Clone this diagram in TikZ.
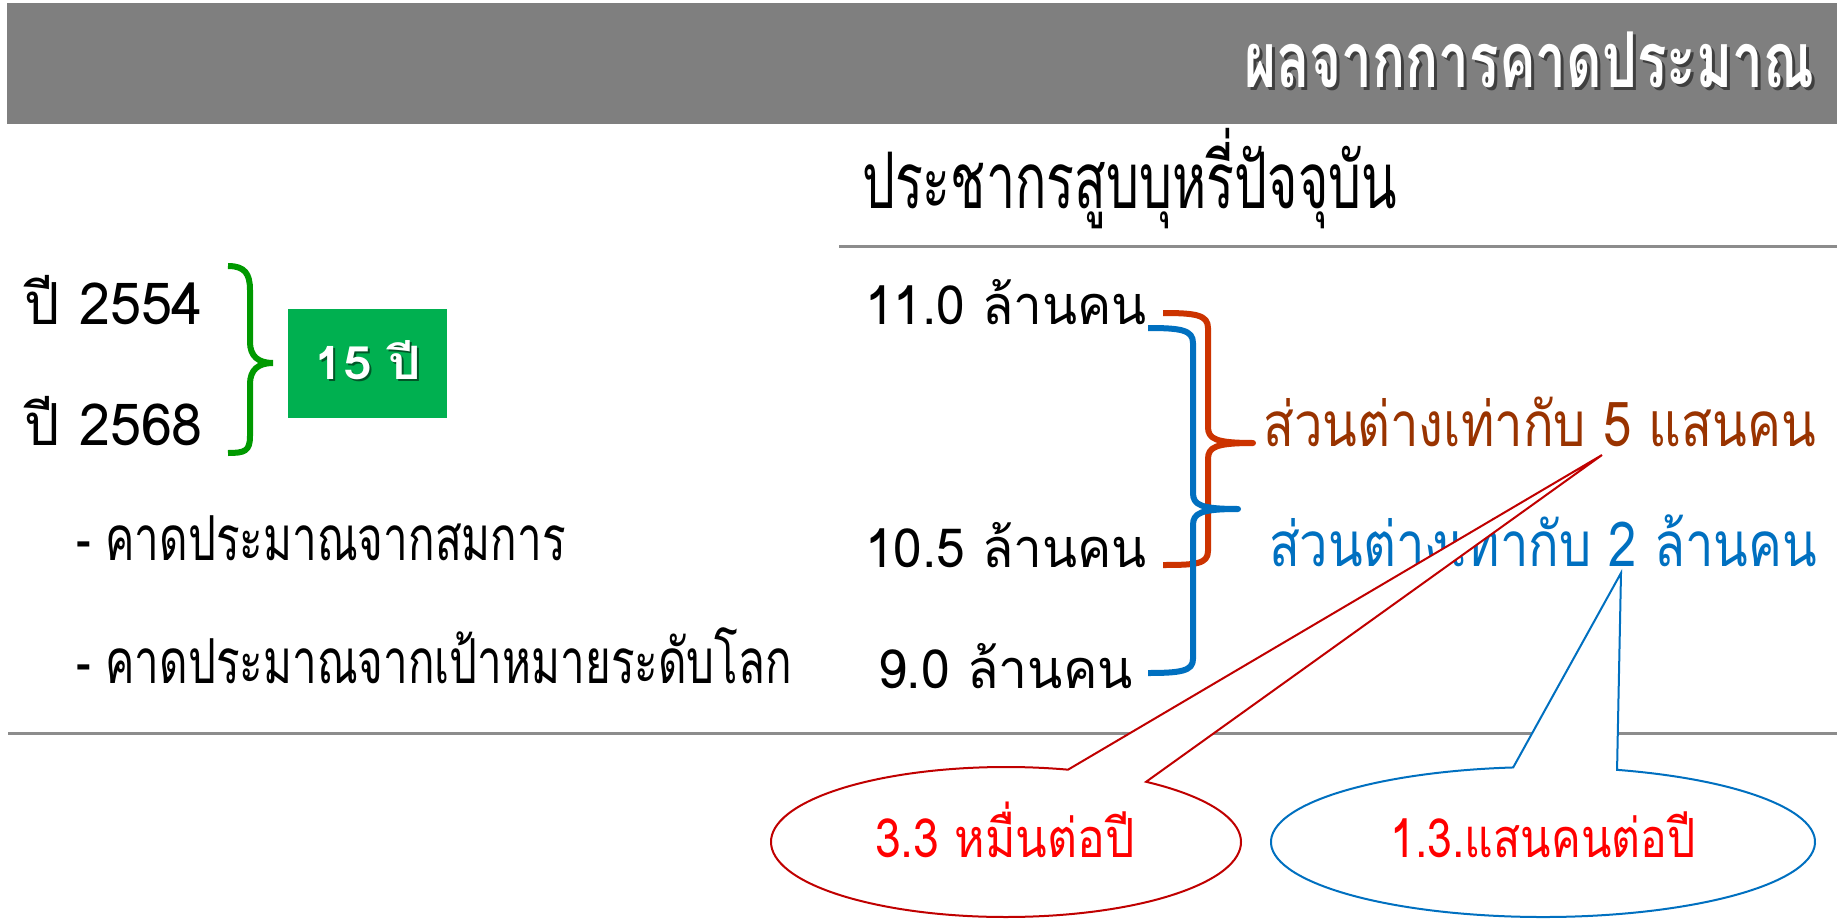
\documentclass[tikz,border=0pt]{standalone}
\usepackage{fontspec}
\usepackage{graphicx}
\newfontfamily\thai[Script=Thai]{Loma}
\usetikzlibrary{calc}
\definecolor{hdr}{RGB}{127,127,127}
\definecolor{rule}{RGB}{140,140,140}
\definecolor{boxgreen}{RGB}{0,176,80}
\definecolor{bracegreen}{RGB}{0,153,0}
\definecolor{bracered}{RGB}{204,51,0}
\definecolor{textbrown}{RGB}{153,51,0}
\definecolor{mblue}{RGB}{0,112,192}
\definecolor{calred}{RGB}{192,0,0}
\definecolor{txtred}{RGB}{255,0,0}
\newcommand\fitw[2]{\resizebox{#1}{\height}{#2}}
\newcommand\fsz[1]{\fontsize{#1}{#1}\selectfont}
\begin{document}
\begin{tikzpicture}[x=1pt,y=-1pt,
  txt/.style={inner sep=0pt, outer sep=0pt, font=\thai},
  lbl/.style={txt, anchor=base west},
  rbl/.style={txt, anchor=base east},
  brace/.style={line width=6pt, line join=round},
  callred/.style={draw=calred, line width=2pt, fill=white, line join=miter},
  callblue/.style={draw=mblue, line width=2pt, fill=white, line join=miter}]
\useasboundingbox (0,0) rectangle (1837,923);
\fill[white] (0,0) rectangle (1837,923);
% header
\fill[hdr] (7,3) rectangle (1837,124);
\node[rbl, text=black, opacity=0.5] (titleshadow) at (1817,91) {\bfseries\fsz{77}\fitw{570pt}{ผลจากการคาดประมาณ}};
\node[rbl, text=white] (title) at (1814,88) {\bfseries\fsz{77}\fitw{570pt}{ผลจากการคาดประมาณ}};
% column heading and rules
\node[lbl] (head) at (862,208) {\fsz{78}\fitw{535pt}{ประชากรสูบบุหรี่ปัจจุบัน}};
\draw[rule, line width=3pt] (839,246) -- (1837,246);
\draw[rule, line width=3pt] (8,733) -- (1837,733);
% left labels
\node[lbl] (y1) at (25,324) {\fsz{58}\fitw{178pt}{ปี 2554}};
\node[lbl] (y2) at (25,445) {\fsz{58}\fitw{178pt}{ปี 2568}};
\draw[bracegreen, line width=6pt] (228,266) .. controls (245,266) and (250,274) .. (250,290)
  -- (250,342) .. controls (250,356) and (258,363) .. (273,363)
  .. controls (258,363) and (250,370) .. (250,384)
  -- (250,436) .. controls (250,451) and (245,453) .. (228,453);
\fill[boxgreen] (288,309) rectangle (447,418);
\node[txt, anchor=base, text=black, opacity=0.5] (yrsshadow) at (370,381) {\bfseries\fsz{46}\fitw{107pt}{15 ปี}};
\node[txt, anchor=base, text=white] (yrs) at (368,379) {\bfseries\fsz{46}\fitw{107pt}{15 ปี}};
\node[lbl] (m1) at (76,560) {\fsz{62}\fitw{490pt}{- คาดประมาณจากสมการ}};
\node[lbl] (m2) at (76,683) {\fsz{62}\fitw{716pt}{- คาดประมาณจากเป้าหมายระดับโลก}};
% values
\node[lbl] (v1) at (865,324) {\fsz{54}\fitw{282pt}{11.0 ล้านคน}};
\node[lbl] (v2) at (865,567) {\fsz{54}\fitw{282pt}{10.5 ล้านคน}};
\node[lbl] (v3) at (878,688) {\fsz{54}\fitw{255pt}{9.0 ล้านคน}};
% braces
\draw[brace, bracered] (1163,313) .. controls (1196,313) and (1208,315) .. (1208,328)
  -- (1208,427) .. controls (1208,439) and (1216,443) .. (1253,443)
  .. controls (1216,443) and (1208,447) .. (1208,459)
  -- (1208,551) .. controls (1208,564) and (1196,565) .. (1163,565);
\draw[brace, mblue] (1148,328) .. controls (1181,328) and (1193,330) .. (1193,343)
  -- (1193,493) .. controls (1193,505) and (1201,509) .. (1238,509)
  .. controls (1201,509) and (1193,513) .. (1193,525)
  -- (1193,659) .. controls (1193,671) and (1181,673) .. (1148,673);
% differences
\node[lbl, text=textbrown] (d1) at (1263,446) {\fsz{62}\fitw{553pt}{ส่วนต่างเท่ากับ 5 แสนคน}};
\node[lbl, text=mblue] (d2) at (1269,566) {\fsz{62}\fitw{548pt}{ส่วนต่างเท่ากับ 2 ล้านคน}};
% callouts
\coordinate (lc) at (1006,842);
\coordinate (ltip) at (1602,455);
\coordinate (lb1) at ($(lc)+(74.7:235pt and 75pt)$);
\coordinate (lb2) at ($(lc)+(53.4:235pt and 75pt)$);
\path[callred] (lb1) -- (ltip) -- (lb2) arc[start angle=53.4, end angle=-285.3, x radius=235pt, y radius=75pt] -- cycle;
\coordinate (rc) at (1543,842);
\coordinate (rtip) at (1621,573);
\coordinate (rb1) at ($(rc)+(96.3:272pt and 75pt)$);
\coordinate (rb2) at ($(rc)+(74.2:272pt and 75pt)$);
\path[callblue] (rb1) -- (rtip) -- (rb2) arc[start angle=74.2, end angle=-263.7, x radius=272pt, y radius=75pt] -- cycle;
\node[txt, anchor=base, text=txtred] (c1) at (1005,857) {\fsz{54}\fitw{260pt}{3.3 หมื่นต่อปี}};
\node[txt, anchor=base, text=txtred] (c2) at (1543,857) {\fsz{54}\fitw{305pt}{1.3.แสนคนต่อปี}};
\end{tikzpicture}
\end{document}
